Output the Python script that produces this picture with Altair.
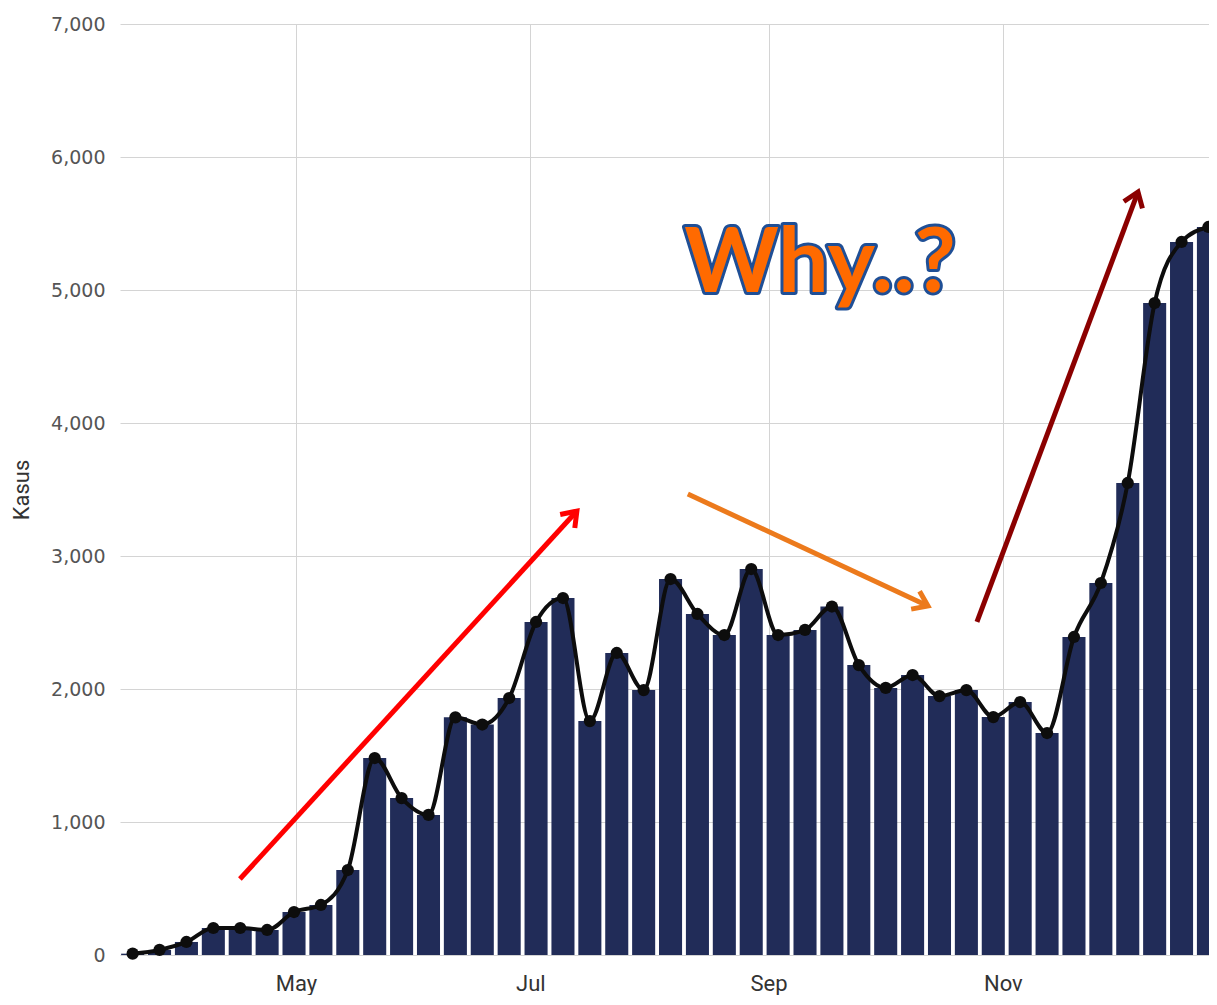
import altair as alt
import pandas as pd

# Weekly data (week start dates, Monday)
week_start = [
    "2020-03-16", "2020-03-23", "2020-03-30", "2020-04-06", "2020-04-13",
    "2020-04-20", "2020-04-27", "2020-05-04", "2020-05-11", "2020-05-18",
    "2020-05-25", "2020-06-01", "2020-06-08", "2020-06-15", "2020-06-22",
    "2020-06-29", "2020-07-06", "2020-07-13", "2020-07-20", "2020-07-27",
    "2020-08-03", "2020-08-10", "2020-08-17", "2020-08-24", "2020-08-31",
    "2020-09-07", "2020-09-14", "2020-09-21", "2020-09-28", "2020-10-05",
    "2020-10-12", "2020-10-19", "2020-10-26", "2020-11-02", "2020-11-09",
    "2020-11-16", "2020-11-23", "2020-11-30", "2020-12-07", "2020-12-14",
    "2020-12-21",
]
cases = [
    10, 38, 98, 203, 203, 188, 323, 376, 639, 1481,
    1180, 1053, 1787, 1733, 1932, 2504, 2684, 1759, 2271, 1992,
    2827, 2564, 2406, 2902, 2406, 2444, 2620, 2180, 2008, 2105,
    1947, 1992, 1789, 1902, 1669, 2391, 2797, 3549, 4902, 5361,
    5474,
]
month_ticks = [5, 7, 9, 11]
y_ticks = [0, 1000, 2000, 3000, 4000, 5000, 6000, 7000]

# Annotation arrows (start/end in data coordinates)
arrow_x1 = ["2020-04-16T10:00:00", "2020-08-11T00:00:00", "2020-10-25T06:00:00"]
arrow_y1 = [571, 3466, 2504]
arrow_x2 = ["2020-07-13T03:00:00", "2020-10-12T12:00:00", "2020-12-06T04:00:00"]
arrow_y2 = [3338, 2624, 5737]
arrow_color = ["#ff0000", "#ec7a1c", "#8b0000"]
arrow_angle = [42.6, 115, 20.5]

note_text = ["Why..?"]
note_x = ["2020-09-14T10:00:00"]
note_y = [4985]

ws = pd.to_datetime(week_start)
df = pd.DataFrame({
    "start": ws + pd.Timedelta(hours=12),
    "end": ws + pd.Timedelta(hours=156),
    "mid": ws + pd.Timedelta(hours=84),
    "cases": cases,
})
arrows = pd.DataFrame({
    "x": pd.to_datetime(arrow_x1), "y": arrow_y1,
    "x2": pd.to_datetime(arrow_x2), "y2": arrow_y2,
    "color": arrow_color, "angle": arrow_angle,
})
notes = pd.DataFrame({"x": pd.to_datetime(note_x), "y": note_y, "label": note_text})

x_scale = alt.Scale(
    domain=[alt.DateTime(year=2020, month=3, date=16, hours=5),
            alt.DateTime(year=2020, month=12, date=24, hours=15, minutes=30)],
    nice=False,
)
x_axis = alt.Axis(
    values=[alt.DateTime(year=2020, month=m, date=1) for m in month_ticks],
    format="%b", title=None, grid=True, ticks=False, domain=False,
    labelFont="Roboto", labelFontSize=22, labelColor="#333333",
    labelPadding=18, gridColor="#d4d4d4", gridWidth=1,
)
y_scale = alt.Scale(domain=[0, 7000], nice=False)
y_axis = alt.Axis(
    values=y_ticks, format=",.0f", title="Kasus", grid=True, ticks=False, domain=False,
    labelFont="DejaVu Sans", labelFontSize=19, labelColor="#555555", labelPadding=15,
    titleFont="Roboto", titleFontSize=22, titleFontWeight="normal",
    titleColor="#333333", titlePadding=17, gridColor="#d4d4d4", gridWidth=1,
)

X = lambda f: alt.X(f, type="temporal", scale=x_scale, axis=x_axis)
Y = lambda f: alt.Y(f, type="quantitative", scale=y_scale, axis=y_axis)

bars = alt.Chart(df).mark_bar(color="#212c58", clip=True).encode(
    x=X("start"), x2="end", y=Y("cases"), y2=alt.datum(0),
)
line = alt.Chart(df).mark_line(color="#0d0d0d", strokeWidth=4, interpolate="monotone").encode(
    x=X("mid"), y=Y("cases"),
)
pts = alt.Chart(df).mark_circle(color="#0d0d0d", size=150, opacity=1).encode(
    x=X("mid"), y=Y("cases"),
)
shafts = alt.Chart(arrows).mark_rule(strokeWidth=5).encode(
    x=X("x"), y=Y("y"), x2="x2", y2="y2",
    color=alt.Color("color:N", scale=None),
)
heads = alt.Chart(arrows).mark_point(
    shape="M-0.75,1.05L0,0L0.75,1.05", size=700, filled=False, strokeWidth=5, opacity=1,
    strokeJoin="miter",
).encode(
    x=X("x2"), y=Y("y2"),
    angle=alt.Angle("angle:Q", scale=None),
    color=alt.Color("color:N", scale=None),
)
outline = alt.Chart(notes).mark_text(
    font="Lato", fontWeight="bold", fontSize=90, align="center", baseline="alphabetic",
    color="#1f4f96", stroke="#1f4f96", strokeWidth=6, strokeJoin="round",
).encode(x=X("x"), y=Y("y"), text="label:N")
fill_txt = alt.Chart(notes).mark_text(
    font="Lato", fontWeight="bold", fontSize=90, align="center", baseline="alphabetic",
    color="#ff6a00",
).encode(x=X("x"), y=Y("y"), text="label:N")

chart = alt.layer(bars, line, pts, shafts, heads, outline, fill_txt).properties(
    width=1089, height=931,
    autosize=alt.AutoSizeParams(type="none"),
    padding={"left": 112, "top": 16, "right": 0, "bottom": 40},
).configure_view(stroke=None)

chart.save("out.html", embed_options={"renderer": "svg", "actions": False})
